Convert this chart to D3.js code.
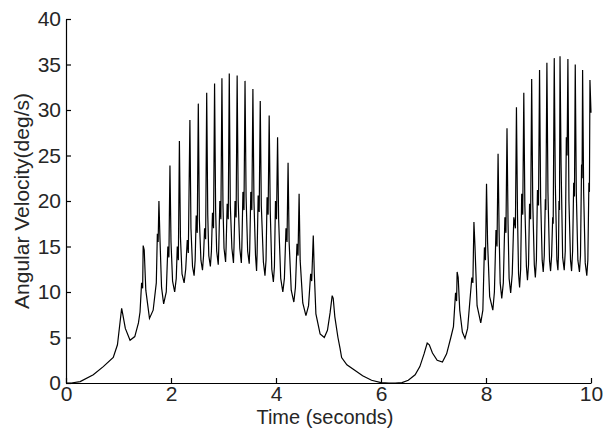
<!DOCTYPE html>
<html>
<head>
<meta charset="utf-8">
<script src="https://cdn.jsdelivr.net/npm/d3@7"></script>
<style>
  body { margin: 0; background: #fff; }
  text { font-family: "Liberation Sans", Arial, sans-serif; fill: #262626; }
</style>
</head>
<body>
<div id="canvas"></div>
<script>
var width = 603;
var height = 430;
var margin = {top: 19, right: 12, bottom: 47, left: 66};

// tick labels and titles
var xTicks = [0, 2, 4, 6, 8, 10];
var yTicks = [0, 5, 10, 15, 20, 25, 30, 35, 40];
var xTitle = "Time (seconds)";
var yTitle = "Angular Velocity(deg/s)";

// [time (s), angular velocity (deg/s)]
var rampUp = [
    [0, 0], [0.1, 0], [0.27, 0.15], [0.52, 0.9], [0.71, 1.8], [0.9, 2.8], [0.98, 4.2],
    [1.03, 6.7], [1.06, 8.2], [1.08, 7.6], [1.13, 6.0], [1.22, 4.7], [1.31, 5.1],
    [1.38, 6.6], [1.41, 7.8]
];

var firstBurst = [
    [1.44, 11.0], [1.46, 10.4], [1.47, 15.1], [1.49, 14.6], [1.52, 10.2], [1.59, 7.1],
    [1.66, 8.0], [1.72, 11.0], [1.74, 16.4], [1.755, 15.5], [1.77, 20.0], [1.79, 15.8], [1.82, 10.5], [1.86, 8.7],
    [1.91, 10.0], [1.94, 15.0], [1.96, 13.8], [1.98, 23.9], [2.00, 15.5], [2.03, 11.2], [2.07, 10.0],
    [2.10, 11.5], [2.12, 15.0], [2.14, 13.5], [2.16, 26.6], [2.18, 16.0], [2.21, 12.0], [2.25, 11.0],
    [2.28, 12.5], [2.31, 15.7], [2.33, 14.3], [2.36, 28.9], [2.38, 17.0], [2.41, 12.8], [2.44, 11.8],
    [2.46, 13.5], [2.48, 18.4], [2.50, 16.5], [2.52, 30.7], [2.54, 18.0], [2.57, 13.5], [2.60, 12.4],
    [2.62, 14.0], [2.64, 17.0], [2.66, 15.8], [2.68, 31.9], [2.70, 18.5], [2.72, 14.0], [2.75, 12.8],
    [2.77, 14.5], [2.79, 18.7], [2.81, 17.0], [2.83, 32.9], [2.85, 19.0], [2.87, 14.5], [2.90, 13.0],
    [2.91, 14.8], [2.93, 20.0], [2.95, 18.0], [2.97, 33.5], [2.99, 19.5], [3.01, 14.8], [3.04, 13.3],
    [3.05, 15.0], [3.07, 19.7], [3.09, 18.0], [3.11, 34.0], [3.13, 19.5], [3.16, 14.8], [3.19, 13.2],
    [3.20, 15.0], [3.22, 20.0], [3.24, 18.2], [3.26, 33.8], [3.28, 20.0], [3.31, 14.8], [3.34, 13.2],
    [3.35, 15.0], [3.37, 21.0], [3.39, 19.0], [3.41, 33.2], [3.43, 20.5], [3.46, 14.5], [3.49, 13.1],
    [3.50, 14.8], [3.52, 21.0], [3.54, 19.0], [3.56, 32.3], [3.58, 20.0], [3.61, 14.0], [3.63, 12.3],
    [3.64, 14.2], [3.66, 20.6], [3.68, 18.8], [3.70, 31.0], [3.72, 19.5], [3.76, 13.3], [3.79, 11.8],
    [3.81, 13.5], [3.83, 20.4], [3.85, 18.5], [3.87, 29.4], [3.89, 19.0], [3.92, 12.5], [3.95, 11.1],
    [3.97, 12.8], [3.99, 20.0], [4.01, 18.0], [4.03, 27.0], [4.05, 18.0], [4.09, 11.5], [4.13, 10.0],
    [4.16, 11.5], [4.19, 17.0], [4.21, 15.5], [4.23, 24.2], [4.25, 15.5], [4.29, 10.2], [4.34, 8.9],
    [4.37, 10.5], [4.40, 15.3], [4.42, 14.0], [4.44, 20.8], [4.46, 13.5], [4.51, 8.8], [4.57, 7.4],
    [4.62, 8.5], [4.66, 12.0], [4.68, 11.2], [4.71, 16.2], [4.73, 12.0], [4.76, 7.6], [4.84, 5.4], [4.92, 5.0],
    [4.98, 5.8], [5.03, 7.7], [5.07, 9.6], [5.09, 9.3], [5.12, 7.3], [5.18, 5.0], [5.22, 3.8], [5.25, 2.8]
];

var valley = [
    [5.35, 2.0], [5.5, 1.4], [5.65, 0.8], [5.82, 0.3], [6.0, 0.05], [6.15, 0], [6.27, 0],
    [6.4, 0.05], [6.52, 0.3], [6.65, 0.9], [6.74, 1.8], [6.82, 3.2], [6.88, 4.4], [6.92, 4.2],
    [6.98, 3.3], [7.07, 2.5], [7.17, 2.3], [7.25, 3.2], [7.33, 5.0]
];

var secondBurst = [
    [7.38, 6.2], [7.42, 9.9], [7.44, 9.0], [7.45, 12.2], [7.47, 11.6], [7.50, 8.0], [7.55, 5.6], [7.60, 4.9],
    [7.65, 6.0], [7.70, 9.5], [7.73, 11.6], [7.75, 11.0], [7.77, 17.7], [7.79, 15.0], [7.83, 8.5], [7.90, 6.6],
    [7.94, 8.0], [7.97, 14.9], [7.99, 13.5], [8.01, 21.9], [8.03, 15.5], [8.07, 9.5], [8.13, 8.0],
    [8.16, 10.0], [8.19, 16.8], [8.21, 15.0], [8.23, 25.2], [8.25, 16.5], [8.27, 11.0], [8.30, 9.3],
    [8.33, 11.0], [8.36, 18.2], [8.38, 16.5], [8.40, 28.0], [8.42, 17.5], [8.44, 11.5], [8.47, 9.9],
    [8.50, 12.0], [8.53, 18.2], [8.56, 17.0], [8.58, 30.3], [8.60, 18.5], [8.62, 12.0], [8.64, 10.5],
    [8.66, 12.5], [8.68, 20.8], [8.70, 18.5], [8.72, 31.9], [8.74, 19.5], [8.77, 12.8], [8.79, 11.3],
    [8.81, 13.0], [8.83, 19.7], [8.85, 18.0], [8.87, 33.4], [8.89, 20.0], [8.92, 13.0], [8.94, 11.6],
    [8.96, 13.5], [8.98, 21.2], [9.00, 19.5], [9.02, 34.4], [9.04, 20.5], [9.07, 13.5], [9.09, 12.2],
    [9.11, 14.0], [9.13, 20.2], [9.14, 19.0], [9.16, 35.2], [9.18, 21.0], [9.21, 13.5], [9.23, 12.3],
    [9.25, 14.0], [9.27, 18.2], [9.28, 17.5], [9.30, 35.7], [9.32, 22.0], [9.35, 13.5], [9.37, 12.4],
    [9.38, 14.0], [9.39, 20.0], [9.40, 19.0], [9.41, 35.9], [9.43, 24.0], [9.46, 13.8], [9.49, 12.4],
    [9.51, 14.5], [9.53, 27.0], [9.545, 25.0], [9.56, 35.6], [9.58, 20.0], [9.61, 13.5], [9.63, 12.3],
    [9.65, 14.5], [9.67, 22.0], [9.685, 20.5], [9.70, 35.0], [9.72, 21.0], [9.75, 13.5], [9.78, 12.2],
    [9.80, 14.0], [9.82, 24.0], [9.83, 22.5], [9.84, 34.4], [9.86, 21.0], [9.89, 13.2], [9.92, 11.8],
    [9.94, 13.5], [9.96, 22.0], [9.97, 21.0], [9.98, 33.3], [10.0, 29.7]
];

var series = rampUp.concat(firstBurst, valley, secondBurst);

var svg = d3.select("#canvas").append("svg")
            .attr("width", width)
            .attr("height", height)
            .style("background-color", "white");

var x = d3.scaleLinear()
    .domain([0, 10])
    .range([margin.left, width - margin.right]);

var y = d3.scaleLinear()
    .domain([0, 40])
    .range([height - margin.bottom, margin.top]);

// axes, ticks point inward like matlab
var xAxis = d3.axisBottom(x)
    .tickValues(xTicks)
    .tickFormat(d3.format("d"))
    .tickSizeInner(-5)
    .tickSizeOuter(0)
    .tickPadding(3);

var yAxis = d3.axisLeft(y)
    .tickValues(yTicks)
    .tickFormat(d3.format("d"))
    .tickSizeInner(-5)
    .tickSizeOuter(0)
    .tickPadding(5);

svg.append("g")
    .attr("transform", "translate(0," + (height - margin.bottom) + ")")
    .call(xAxis);

svg.append("g")
    .attr("transform", "translate(" + margin.left + ",0)")
    .call(yAxis);

svg.selectAll(".domain, .tick line").attr("stroke", "#000").attr("stroke-width", 1.2);
svg.selectAll(".tick text")
    .attr("fill", "#262626")
    .style("font-size", "21px")
    .style("font-family", "'Liberation Sans', Arial, sans-serif");

// the trace
var line = d3.line()
    .x(d => x(d[0]))
    .y(d => y(d[1]));

svg.append("path")
    .datum(series)
    .attr("fill", "none")
    .attr("stroke", "#000")
    .attr("stroke-width", 1.2)
    .attr("d", line);

// titles
svg.append("text")
    .attr("x", 325)
    .attr("y", 424)
    .attr("text-anchor", "middle")
    .style("font-size", "20px")
    .text(xTitle);

svg.append("text")
    .attr("transform", "translate(29," + ((margin.top + height - margin.bottom) / 2) + ") rotate(-90)")
    .attr("text-anchor", "middle")
    .style("font-size", "21px")
    .text(yTitle);
</script>
</body>
</html>
